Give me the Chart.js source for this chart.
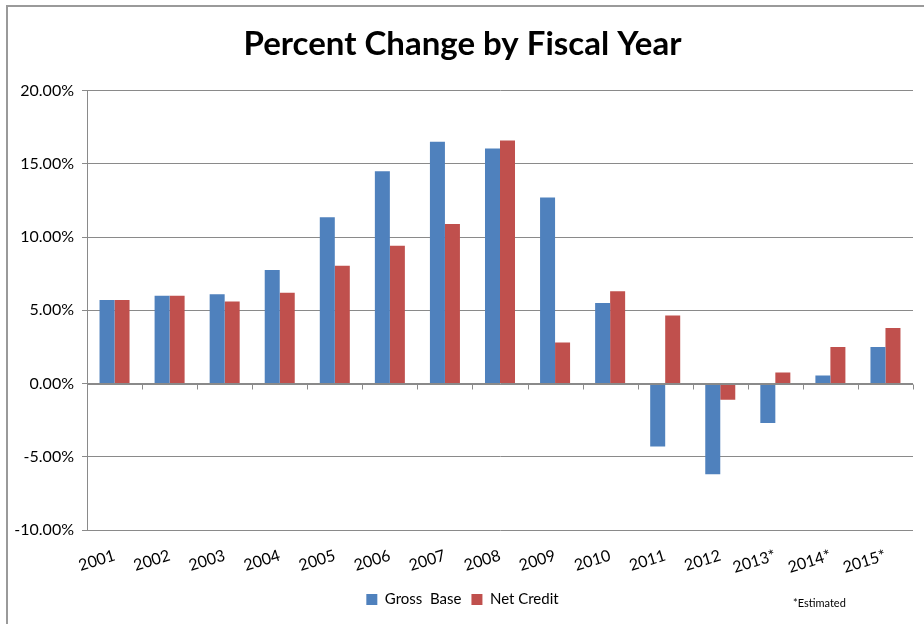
<!DOCTYPE html>
<html>
<head>
<meta charset="utf-8">
<script src="https://cdn.jsdelivr.net/npm/chart.js@4.4.1/dist/chart.umd.min.js"></script>
<style>
  html, body { margin: 0; padding: 0; background: #fff; }
  #wrap { position: relative; width: 924px; height: 624px; overflow: hidden; }
  #frame { position: absolute; left: 6px; top: 5px; width: 1000px; height: 1000px;
           border-left: 2px solid #9a9a9a; border-top: 2px solid #9a9a9a; }
  #note { position: absolute; left: 793px; top: 596px; font: 11px Lato, "Open Sans", sans-serif; color: #000; }
  canvas { position: absolute; left: 0; top: 0; }
</style>
</head>
<body>
<div id="wrap">
  <div id="frame"></div>
  <canvas id="chart" width="924" height="624"></canvas>
  <div id="note">*Estimated</div>
</div>
<script>
// fiscal years, last three are estimates
var years = ['2001', '2002', '2003', '2004', '2005', '2006', '2007', '2008',
             '2009', '2010', '2011', '2012', '2013*', '2014*', '2015*'];
// percent change per year
var grossBase  = [5.7, 6.0, 6.1, 7.75, 11.35, 14.5, 16.5, 16.05, 12.7, 5.5, -4.3, -6.2, -2.7, 0.55, 2.5];
var netCredit  = [5.7, 6.0, 5.6, 6.2, 8.05, 9.4, 10.9, 16.6, 2.8, 6.3, 4.65, -1.1, 0.75, 2.5, 3.8];
var yTicks = [-10, -5, 0, 5, 10, 15, 20];

var FONT = 'Lato, "Open Sans", sans-serif';
var GRID = '#8a8a8a';

// Excel-style category axis: tick marks hang below the zero line
var zeroAxis = {
  id: 'zeroAxis',
  afterDatasetsDraw: function(chart) {
    var x = chart.scales.x, y = chart.scales.y;
    var y0 = Math.round(y.getPixelForValue(0)) + 0.5;
    var ctx = chart.ctx;
    ctx.save();
    ctx.strokeStyle = GRID;
    ctx.lineWidth = 1;
    ctx.beginPath();
    ctx.moveTo(x.left, y0);
    ctx.lineTo(x.right, y0);
    for (var i = 0; i <= years.length; i++) {
      var px = Math.round(x.getPixelForValue(i - 0.5)) + 0.5;
      ctx.moveTo(px, y0);
      ctx.lineTo(px, y0 + 5);
    }
    ctx.stroke();
    ctx.restore();
  }
};

new Chart(document.getElementById('chart'), {
  type: 'bar',
  data: {
    labels: years,
    datasets: [
      { label: 'Gross  Base', data: grossBase, backgroundColor: '#4F81BD' },
      { label: 'Net Credit', data: netCredit, backgroundColor: '#C0504D' }
    ]
  },
  options: {
    responsive: false,
    animation: false,
    layout: { padding: { left: 12, right: 11, top: 0, bottom: 7 } },
    datasets: { bar: { barPercentage: 1, categoryPercentage: 0.545 } },
    scales: {
      x: {
        offset: true,
        grid: { display: false },
        border: { display: false },
        ticks: {
          color: '#000', font: { family: FONT, size: 16 },
          minRotation: 17, maxRotation: 17, padding: 8, autoSkip: false
        },
        afterFit: function(s) { s.height = 52; }
      },
      y: {
        min: -10, max: 20,
        afterBuildTicks: function(s) { s.ticks = yTicks.map(function(v) { return { value: v }; }); },
        grid: { color: GRID, tickLength: 5, drawTicks: true },
        border: { display: true, color: GRID },
        ticks: {
          color: '#000', font: { family: FONT, size: 16 }, padding: 8,
          callback: function(v) { return v.toFixed(2) + '%'; }
        },
        afterFit: function(s) { s.width = 75; }
      }
    },
    plugins: {
      title: {
        display: true,
        text: 'Percent Change by Fiscal Year',
        color: '#000',
        font: { family: FONT, size: 33, weight: 'bold' },
        padding: { top: 25, bottom: 26 }
      },
      legend: {
        position: 'bottom',
        labels: {
          color: '#000', font: { family: FONT, size: 15 },
          boxWidth: 11, boxHeight: 11, padding: 10
        }
      },
      tooltip: { enabled: false }
    }
  },
  plugins: [zeroAxis]
});
</script>
</body>
</html>
